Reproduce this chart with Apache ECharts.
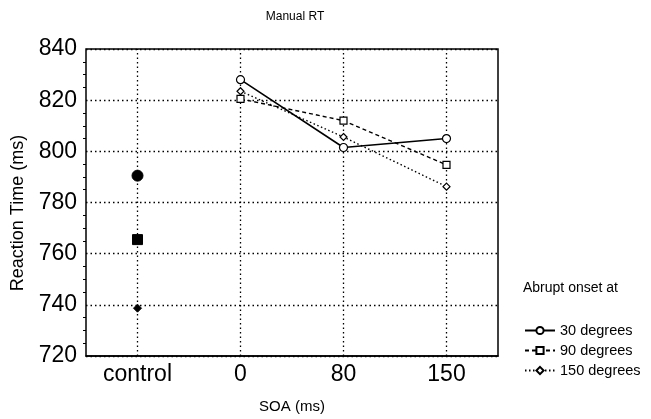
<!DOCTYPE html>
<html>
<head>
<meta charset="utf-8">
<script src="https://cdn.jsdelivr.net/npm/echarts@6/dist/echarts.min.js"></script>
<style>html,body{margin:0;padding:0;background:#fff;}#c{width:651px;height:419px;}</style>
</head>
<body>
<div id="c"></div>
<script>
const categories = ['control', '0', '80', '150'];
const seriesNames = ['30 degrees', '90 degrees', '150 degrees'];
const deg30 = [null, 828, 801.5, 805];
const deg90 = [null, 820.5, 812, 794.7];
const deg150 = [null, 823.5, 805.6, 786.2];
const controlCircle = [790.5, null, null, null];
const controlSquare = [765.5, null, null, null];
const controlDiamond = [738.7, null, null, null];
const yTicks = [720, 740, 760, 780, 800, 820, 840];

const font = 'Liberation Sans, Arial, sans-serif';
const chart = echarts.init(document.getElementById('c'), null, {renderer: 'canvas'});

function lineSeries(name, data, symbol, type) {
  return {
    name: name, type: 'line', data: data, symbol: symbol, symbolSize: symbol === 'circle' ? 8 : 7,
    showAllSymbol: true, connectNulls: false,
    lineStyle: {color: '#000', width: type === 'solid' ? 1.6 : 1.4, type: type},
    itemStyle: {color: '#fff', borderColor: '#000', borderWidth: 1.2},
    emphasis: {disabled: true}, z: 5
  };
}
function ctrlSeries(data, symbol, size) {
  return {
    type: 'line', data: data, symbol: symbol, symbolSize: size, showAllSymbol: true,
    lineStyle: {width: 0}, itemStyle: {color: '#000', borderColor: '#000'}, emphasis: {disabled: true}, z: 5
  };
}

const vLines = categories.map(c => ({xAxis: c}));

chart.setOption({
  animation: false,
  backgroundColor: '#fff',
  title: {text: 'Manual RT', left: 290, top: 6, textAlign: 'center',
    textStyle: {fontFamily: font, fontSize: 12, fontWeight: 'normal', color: '#000'}},
  grid: {left: 86, right: 153, top: 49, bottom: 58, show: true, borderColor: '#000', borderWidth: 1.5, backgroundColor: 'transparent'},
  legend: {
    data: seriesNames, orient: 'vertical', left: 519, top: 318, itemGap: 5,
    itemWidth: 30, itemHeight: 9,
    textStyle: {fontFamily: font, fontSize: 14.5, color: '#000'}
  },
  graphic: [
    {type: 'text', left: 523, top: 281, style: {text: 'Abrupt onset at', fontFamily: font, fontSize: 14, fill: '#000'}},
    {type: 'text', x: 18, y: 213, rotation: Math.PI / 2,
      style: {text: 'Reaction Time (ms)', fontFamily: font, fontSize: 18, fill: '#000', align: 'center', verticalAlign: 'middle'}}
  ],
  xAxis: {
    type: 'category', data: categories, boundaryGap: true,
    name: 'SOA (ms)', nameLocation: 'middle', nameGap: 43,
    nameTextStyle: {fontFamily: font, fontSize: 15, color: '#000'},
    axisLine: {lineStyle: {color: '#000', width: 1.5}},
    axisTick: {show: false},
    axisLabel: {fontFamily: font, fontSize: 23, color: '#000', margin: 7},
    splitLine: {show: false}
  },
  yAxis: {
    type: 'value', min: 720, max: 840, interval: 20,
    axisLine: {lineStyle: {color: '#000', width: 1.5}},
    axisTick: {show: false},
    minorTick: {show: true, splitNumber: 4, length: 3, lineStyle: {color: '#000'}},
    axisLabel: {fontFamily: font, fontSize: 23, color: '#000', margin: 9,
      verticalAlignMinLabel: 'middle', verticalAlignMaxLabel: 'middle', hideOverlap: false,
      padding: [4, 0, 0, 0],
      formatter: v => yTicks.indexOf(v) >= 0 ? String(v) : ''},
    splitLine: {show: true, lineStyle: {color: '#000', type: [1.5, 3], width: 1.3}}
  },
  series: [
    Object.assign(lineSeries(seriesNames[0], deg30, 'circle', 'solid'), {
      markLine: {silent: true, symbol: 'none', label: {show: false},
        lineStyle: {color: '#000', type: [1.5, 3], width: 1.3}, data: vLines, z: 1}
    }),
    lineSeries(seriesNames[1], deg90, 'rect', [4, 3]),
    lineSeries(seriesNames[2], deg150, 'diamond', [1.5, 2.5]),
    ctrlSeries(controlCircle, 'circle', 11),
    ctrlSeries(controlSquare, 'rect', 10),
    ctrlSeries(controlDiamond, 'diamond', 8)
  ]
});
</script>
</body>
</html>
